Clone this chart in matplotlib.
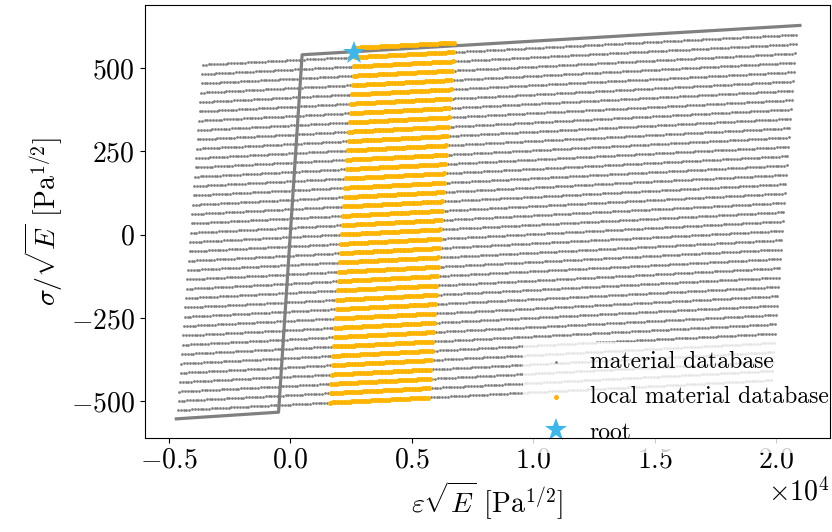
import numpy as np
import matplotlib
matplotlib.use("Agg")
import matplotlib.pyplot as plt

plt.rcParams['font.family'] = 'serif'
plt.rcParams['font.serif'] = ['cmr10']
plt.rcParams['mathtext.fontset'] = 'cm'
plt.rcParams['axes.formatter.use_mathtext'] = True
plt.rcParams['axes.unicode_minus'] = True

# material database: sheared grid, corners
db_bottom_left = (-4630.0, -527.0)
db_bottom_right = (19800.0, -437.0)
db_top_left = (-3600.0, 510.0)
db_rows = 38
db_cols = 212

# local database: column range inside the grid, one extra row on top
local_cols = (54, 89)
local_rows = 39

# bilinear reference curve
line_eps = [-4700.0, -490.0, 480.0, 20980.0]
line_sig = [-553.0, -533.0, 540.0, 628.0]

# root point
root_eps = 2630.0
root_sig = 546.0


def grid_points(rows, cols):
    x0, y0 = db_bottom_left
    de = (db_bottom_right[0] - x0) / (db_cols - 1)
    ds = (db_bottom_right[1] - y0) / (db_cols - 1)
    re = (db_top_left[0] - x0) / (db_rows - 1)
    rs = (db_top_left[1] - y0) / (db_rows - 1)
    j, i = np.meshgrid(cols, rows)
    return (x0 + j * de + i * re).ravel(), (y0 + j * ds + i * rs).ravel()


eps_db, sig_db = grid_points(np.arange(db_rows), np.arange(db_cols))
eps_loc, sig_loc = grid_points(np.arange(local_rows),
                               np.arange(local_cols[0], local_cols[1] + 1))

fig = plt.figure(figsize=(8.32, 5.32), dpi=100)
ax = fig.add_axes([0.174, 0.177, 0.823, 0.814])

ax.plot(line_eps, line_sig, color='gray', lw=2.3, zorder=1)
ax.scatter(eps_db, sig_db, s=4, color='gray', linewidths=0,
           label='material database', zorder=2)
ax.scatter(eps_loc, sig_loc, s=13, color='#FFB400', linewidths=0,
           label='local material database', zorder=3)
ax.plot(root_eps, root_sig, '*', color='#3DB7E9', ms=17, mew=0,
        label='root', zorder=4, linestyle='none')

ax.set_xlim(-6000, 22200)
ax.set_ylim(-610, 690)
ax.set_xticks([-5000, 0, 5000, 10000, 15000, 20000])
ax.set_yticks([-500, -250, 0, 250, 500])
ax.ticklabel_format(axis='x', style='sci', scilimits=(0, 0))
ax.tick_params(labelsize=20)
ax.xaxis.get_offset_text().set_fontsize(20)

ax.set_xlabel(r'$\varepsilon\sqrt{E}$ [Pa$^{1/2}$]', fontsize=20)
ax.set_ylabel(r'$\sigma/\sqrt{E}$ [Pa$^{1/2}$]', fontsize=20)

leg = ax.legend(loc='lower right', bbox_to_anchor=(1.012, -0.035),
                fontsize=17, frameon=True, framealpha=0.8,
                edgecolor='none', borderaxespad=0.0, handletextpad=0.4,
                labelspacing=0.55, markerscale=1.0)
leg.set_zorder(4.5)
for sp in ax.spines.values():
    sp.set_zorder(5)

fig.savefig('out.png', dpi=100)
